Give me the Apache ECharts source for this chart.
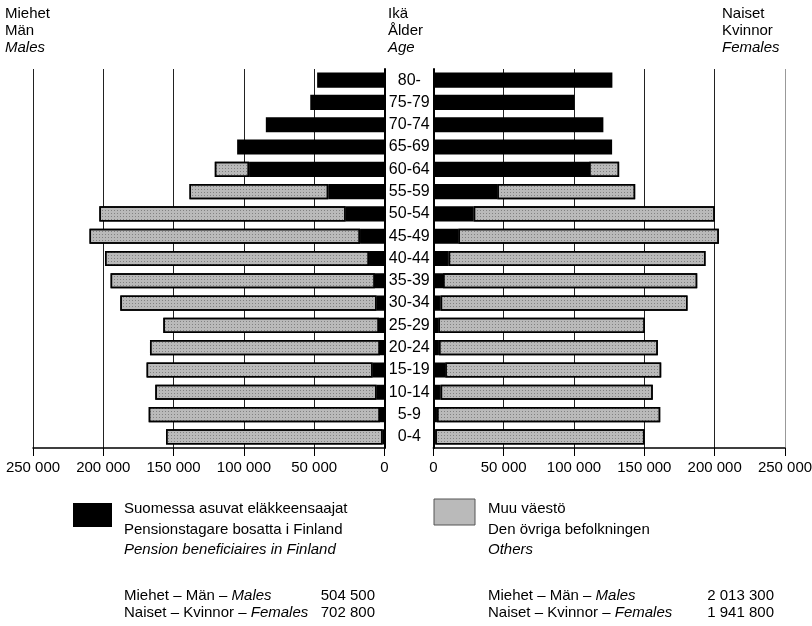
<!DOCTYPE html>
<html><head><meta charset="utf-8">
<script src="https://cdn.jsdelivr.net/npm/echarts@6/dist/echarts.min.js"></script>
<style>html,body{margin:0;padding:0;background:#fff}#c{width:812px;height:626px}</style>
</head><body><div id="c"></div>
<script>
const ages = ['0-4','5-9','10-14','15-19','20-24','25-29','30-34','35-39','40-44','45-49','50-54','55-59','60-64','65-69','70-74','75-79','80-'];
const malePension   = [1300, 3200, 5600, 8400, 3200, 3900, 5600, 6800, 11000, 17400, 27600, 40000, 96300, 104800, 84400, 52800, 47900];
const maleOthers    = [154100, 164500, 157400, 160800, 163600, 153400, 182300, 188000, 187800, 192400, 175200, 98700, 24400, null, null, null, null];
const femalePension = [1400, 2600, 5200, 8500, 4000, 3600, 5200, 6900, 10900, 17800, 28700, 45500, 110700, 127100, 120900, 100300, 127300];
const femaleOthers  = [148700, 158700, 150800, 153500, 155600, 146800, 175500, 180700, 182600, 185200, 171400, 98000, 21400, null, null, null, null];
const tickMax = 250000, tickStep = 50000;
const headerLeft = ['Miehet','Män','Males'];
const headerMid = ['Ikä','Ålder','Age'];
const headerRight = ['Naiset','Kvinnor','Females'];
const legendPension = ['Suomessa asuvat eläkkeensaajat','Pensionstagare bosatta i Finland','Pension beneficiaires in Finland'];
const legendOthers = ['Muu väestö','Den övriga befolkningen','Others'];
const pensionTotals = [['Miehet – Män – ','Males','504 500'],['Naiset – Kvinnor – ','Females','702 800']];
const otherTotals = [['Miehet – Män – ','Males','2 013 300'],['Naiset – Kvinnor – ','Females','1 941 800']];

const FONT = "'Liberation Sans',Arial,sans-serif";
const FS = 15;
const GREY = '#bababa';
const fmt = v => String(v).replace(/\B(?=(\d{3})+(?!\d))/g, ' ');
const stipple = {symbol:'rect', symbolSize:1, color:'rgba(0,0,0,0.3)', dashArrayX:[1,2], dashArrayY:[1,2], rotation:0};

const chart = echarts.init(document.getElementById('c'), null, {renderer:'canvas'});

function txt(x, y, s, italic, align) {
  return {type:'text', x:x, y:y, style:{text:s, font:(italic?'italic ':'')+FS+'px '+FONT, fill:'#000', textAlign:align||'left', textVerticalAlign:'middle'}};
}
const g = [];
headerLeft.forEach((s,i)=>g.push(txt(5, 14+i*17, s, i===2)));
headerMid.forEach((s,i)=>g.push(txt(388, 14+i*17, s, i===2)));
headerRight.forEach((s,i)=>g.push(txt(722, 14+i*17, s, i===2)));
// legend boxes
g.push({type:'rect', shape:{x:73,y:503,width:39,height:24}, style:{fill:'#000'}});
g.push({type:'rect', shape:{x:434,y:499,width:41,height:26}, style:{fill:GREY, stroke:'#555', lineWidth:1}});
legendPension.forEach((s,i)=>g.push(txt(124, 509+i*20.5, s, i===2)));
legendOthers.forEach((s,i)=>g.push(txt(488, 509+i*20.5, s, i===2)));
function totals(arr, x, xv) {
  arr.forEach((r,i)=>{
    const y = 596+i*17;
    g.push({type:'text', x:x, y:y, style:{text:'{a|'+r[0]+'}{b|'+r[1]+'}', textVerticalAlign:'middle',
      rich:{a:{font:FS+'px '+FONT, fill:'#000'}, b:{font:'italic '+FS+'px '+FONT, fill:'#000'}}}});
    g.push(txt(xv, y, r[2], false, 'right'));
  });
}
totals(pensionTotals, 124, 375);
totals(otherTotals, 488, 774);

const axisCommon = {
  type:'value', min:0, max:tickMax, interval:tickStep,
  axisLine:{show:true, lineStyle:{color:'#000', width:1.5}},
  axisTick:{show:true, length:8, lineStyle:{color:'#000'}},
  splitLine:{show:true, lineStyle:{color:'#222', width:1}},
  axisLabel:{color:'#000', fontSize:FS, fontFamily:FONT, margin:12, formatter:fmt}
};
const catCommon = {
  type:'category', data:ages,
  axisTick:{show:false},
  axisLine:{show:true, lineStyle:{color:'#000', width:2}}
};
const barCommon = {type:'bar', barCategoryGap:'32%', animation:false, silent:true};

chart.setOption({
  animation:false,
  graphic:g,
  grid:[
    {left:33, right:812-384.5, top:69, bottom:178, outerBoundsMode:'none', containLabel:false},
    {left:433.3, right:812-785, top:69, bottom:178, outerBoundsMode:'none', containLabel:false}
  ],
  xAxis:[
    Object.assign({}, axisCommon, {gridIndex:0, inverse:true}),
    Object.assign({}, axisCommon, {gridIndex:1, splitLine:{show:true, lineStyle:{color:['#222','#222','#222','#222','#222','#999'], width:1}}})
  ],
  yAxis:[
    Object.assign({}, catCommon, {gridIndex:0, position:'right', axisLabel:{show:false}}),
    Object.assign({}, catCommon, {gridIndex:1, position:'left', axisLabel:{show:true, color:'#000', fontSize:FS+1, fontFamily:FONT, align:'center', margin:24}})
  ],
  series:[
    Object.assign({}, barCommon, {name:'mp', xAxisIndex:0, yAxisIndex:0, stack:'m', data:malePension, itemStyle:{color:'#000', borderColor:'#000', borderWidth:1.5}}),
    Object.assign({}, barCommon, {name:'mo', xAxisIndex:0, yAxisIndex:0, stack:'m', data:maleOthers, itemStyle:{color:GREY, borderColor:'#000', borderWidth:1.5, decal:stipple}}),
    Object.assign({}, barCommon, {name:'fp', xAxisIndex:1, yAxisIndex:1, stack:'f', data:femalePension, itemStyle:{color:'#000', borderColor:'#000', borderWidth:1.5}}),
    Object.assign({}, barCommon, {name:'fo', xAxisIndex:1, yAxisIndex:1, stack:'f', data:femaleOthers, itemStyle:{color:GREY, borderColor:'#000', borderWidth:1.5, decal:stipple}})
  ]
});
</script></body></html>
